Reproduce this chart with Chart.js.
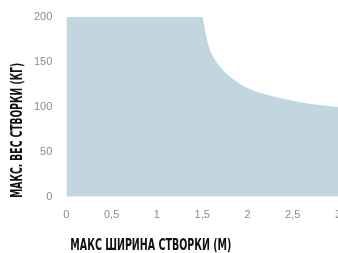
<!DOCTYPE html>
<html>
<head>
<meta charset="utf-8">
<script src="https://cdn.jsdelivr.net/npm/chart.js@4"></script>
<style>
  html, body { margin: 0; padding: 0; background: #fff; overflow: hidden; }
  #wrap { width: 352px; height: 253px; }
</style>
</head>
<body>
<div id="wrap"><canvas id="c" width="352" height="253"></canvas></div>
<script>
// width (m) vs max leaf weight (kg)
const widths  = [0, 1.5, 1.53, 1.56, 1.6, 1.65, 1.7, 1.8, 1.9, 2.0, 2.2, 2.4, 2.6, 2.8, 3.0];
const weights = [200, 200, 186, 172, 160, 151, 144, 134, 127, 121, 114, 109, 105, 102, 100];
const xTitle = 'МАКС ШИРИНА СТВОРКИ (М)';
const yTitle = 'МАКС. ВЕС СТВОРКИ (КГ)';

const titleFont = 'bold 16px "Liberation Sans Narrow", "DejaVu Sans Condensed", sans-serif';
const tickFont = { family: '"Liberation Sans", Arial, sans-serif', size: 11 };

// axis titles in a condensed face, squeezed to the reference width
const axisTitles = {
  id: 'axisTitles',
  afterDraw(chart) {
    const ctx = chart.ctx, area = chart.chartArea;
    ctx.save();
    ctx.font = titleFont;
    ctx.fillStyle = '#111';
    ctx.textBaseline = 'middle';
    ctx.textAlign = 'left';
    // x title
    ctx.save();
    ctx.translate(area.left + 4, 246);
    ctx.scale(161 / ctx.measureText(xTitle).width, 1);
    ctx.fillText(xTitle, 0, 0);
    ctx.restore();
    // y title
    ctx.save();
    ctx.translate(18, area.bottom + 1);
    ctx.rotate(-Math.PI / 2);
    ctx.scale(135 / ctx.measureText(yTitle).width, 1);
    ctx.fillText(yTitle, 0, 0);
    ctx.restore();
    ctx.restore();
  }
};

new Chart(document.getElementById('c'), {
  type: 'scatter',
  data: {
    datasets: [{
      data: widths.map((w, i) => ({ x: w, y: weights[i] })),
      showLine: true,
      fill: 'origin',
      backgroundColor: '#c2d6df',
      borderWidth: 0,
      borderColor: 'rgba(0,0,0,0)',
      pointRadius: 0,
      cubicInterpolationMode: 'monotone'
    }]
  },
  options: {
    responsive: false,
    animation: false,
    layout: { padding: { top: 17, right: 14, bottom: 27, left: 28 } },
    plugins: { legend: { display: false }, tooltip: { enabled: false } },
    scales: {
      x: {
        type: 'linear', min: 0, max: 3,
        grid: { display: false }, border: { display: false },
        ticks: { stepSize: 0.5, color: '#8c8c8c', font: tickFont, padding: 4,
                 callback: v => String(v).replace('.', ',') }
      },
      y: {
        min: 0, max: 200,
        grid: { display: false }, border: { display: false },
        ticks: { stepSize: 50, color: '#8c8c8c', font: tickFont, padding: 6 }
      }
    }
  },
  plugins: [axisTitles]
});
</script>
</body>
</html>
